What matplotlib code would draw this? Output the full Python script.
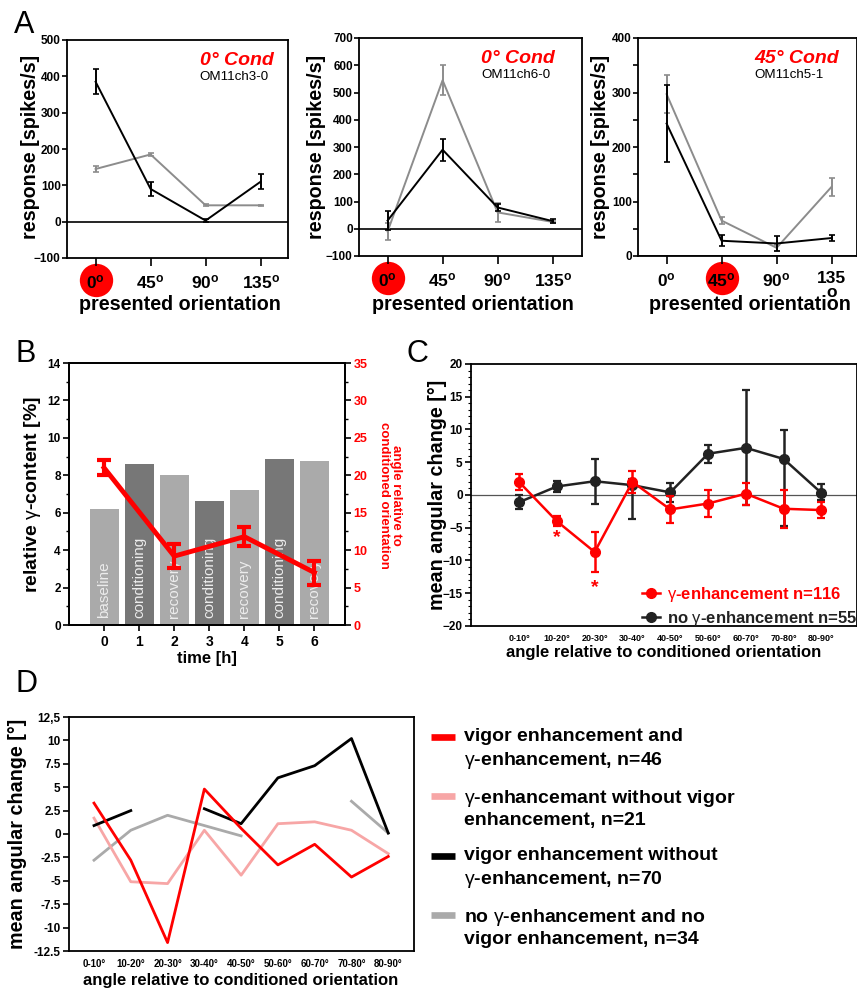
import numpy as np
import matplotlib
matplotlib.use('Agg')
import matplotlib.pyplot as plt
from matplotlib.ticker import MultipleLocator
from matplotlib.lines import Line2D

plt.rcParams['font.family'] = ['Liberation Sans', 'DejaVu Sans']
plt.rcParams['mathtext.fontset'] = 'custom'
plt.rcParams['mathtext.rm'] = 'Liberation Sans'
plt.rcParams['mathtext.bf'] = 'Liberation Sans:bold'
plt.rcParams['mathtext.it'] = 'Liberation Sans:italic'
plt.rcParams['axes.linewidth'] = 1.3

# ---- data: panel A (tuning curves) ----
orient_pos = [0, 1, 2, 3]
a1_black = [385, 90, 3, 110]
a1_black_err = [35, 20, 3, 20]
a1_gray = [145, 185, 45, 45]
a1_gray_err = [7, 5, 3, 2]

a2_black = [30, 290, 78, 28]
a2_black_err = [35, 40, 12, 8]
a2_gray = [-10, 545, 60, 25]
a2_gray_err = [30, 55, 35, 5]

a3_black = [243, 28, 23, 33]
a3_black_err = [70, 10, 13, 5]
a3_gray = [297, 65, 15, 127]
a3_gray_err = [35, 6, 5, 17]

# ---- data: panel B ----
hours = [0, 1, 2, 3, 4, 5, 6]
gamma_content = [6.2, 8.6, 8.0, 6.6, 7.2, 8.85, 8.75]
phase_labels = ['baseline', 'conditioning', 'recovery', 'conditioning',
                'recovery', 'conditioning', 'recovery']
angle_hours = [0, 2, 4, 6]
angle_vals = [21.0, 9.2, 11.8, 7.0]
angle_err = [1.0, 1.6, 1.3, 1.6]

# ---- data: panel C ----
angle_bins = ['0-10°', '10-20°', '20-30°', '30-40°', '40-50°',
              '50-60°', '60-70°', '70-80°', '80-90°']
gamma_enh = [2.0, -4.0, -8.7, 2.0, -2.2, -1.3, 0.2, -2.1, -2.3]
gamma_enh_err = [1.2, 0.8, 3.1, 1.7, 2.0, 2.0, 1.7, 2.9, 1.2]
no_gamma = [-1.1, 1.3, 2.1, 1.5, 0.4, 6.3, 7.2, 5.5, 0.3]
no_gamma_err_lo = [1.1, 0.8, 3.4, 5.1, 1.4, 1.4, 8.7, 10.3, 1.0]
no_gamma_err_hi = [1.1, 0.8, 3.4, 0.9, 1.5, 1.4, 8.9, 4.4, 1.4]

# ---- data: panel D ----
vig_gam = [3.3, -2.8, -11.6, 4.8, 0.6, -3.3, -1.1, -4.6, -2.4]
gam_novig = [1.7, -5.1, -5.3, 0.4, -4.4, 1.1, 1.3, 0.4, -2.1]
vig_nogam = [0.9, 2.5, np.nan, 2.7, 1.1, 6.0, 7.3, 10.2, 0.1]
novig_nogam = [-2.8, 0.4, 2.0, 0.9, -0.2, np.nan, np.nan, 3.5, 0.1]
d_ylabels = ['-12.5', '-10', '-7.5', '-5', '-2.5', '0', '2.5', '5', '7.5', '10', '12,5']

W, H = 857, 990
fig = plt.figure(figsize=(W / 100, H / 100), dpi=100)


def px_axes(l, t, r, b):
    return fig.add_axes([l / W, 1 - b / H, (r - l) / W, (b - t) / H])


def ftext(x, y, s, **kw):
    kw.setdefault('ha', 'center')
    kw.setdefault('va', 'center')
    return fig.text(x / W, 1 - y / H, s, **kw)


# ================= Panel A =================
deg = r'$^{\mathbf{o}}$'
panels_a = [
    (67, 40, 288, 258, a1_black, a1_black_err, a1_gray, a1_gray_err, (-100, 500), 100, None,
     0, '0° Cond', 'OM11ch3-0', 0.60, 31),
    (359, 38, 582, 256, a2_black, a2_black_err, a2_gray, a2_gray_err, (-100, 700), 100, None,
     0, '0° Cond', 'OM11ch6-0', 0.547, 317),
    (638, 38, 857, 256, a3_black, a3_black_err, a3_gray, a3_gray_err, (0, 400), 100, 50,
     1, '45° Cond', 'OM11ch5-1', 0.53, 600),
]
for (l, t, r, b, blk, blk_e, gry, gry_e, ylim, major, minor, cond, title, cell, tx, ylx) in panels_a:
    ax = px_axes(l, t, r, b)
    ax.set_xlim(-0.52, -0.52 + (r - l) / 55.0)
    ax.set_ylim(*ylim)
    ax.axhline(0, color='black', lw=1.2, zorder=1.5)
    ax.errorbar(orient_pos, gry, yerr=gry_e, color='#8c8c8c', lw=1.4,
                elinewidth=1.4, capsize=2, capthick=1.2, zorder=3)
    ax.errorbar(orient_pos, blk, yerr=blk_e, color='black', lw=1.4,
                elinewidth=1.4, capsize=2, capthick=1.2, zorder=4)
    ax.plot([cond], [-0.10], 'o', ms=24, color='#ff0000', mec='none',
            transform=ax.get_xaxis_transform(), clip_on=False, zorder=1)
    ax.set_xticks(orient_pos)
    labs = ['0' + deg, '45' + deg, '90' + deg, '135' + deg]
    if cond == 1:
        labs[3] = '135\no'
    ax.set_xticklabels(labs, fontsize=12.5, fontweight='bold', linespacing=0.9)
    ax.yaxis.set_major_locator(MultipleLocator(major))
    if minor:
        ax.yaxis.set_minor_locator(MultipleLocator(minor))
    ax.tick_params(axis='x', direction='out', length=6, width=1.2, pad=5)
    ax.tick_params(axis='y', which='both', direction='out', length=3.5, width=1.2, pad=1,
                   labelsize=8.5)
    for lab in ax.get_yticklabels():
        lab.set_fontweight('bold')
    ax.text(tx, 0.905, title, transform=ax.transAxes, color='#ff0000', fontsize=14,
            fontweight='bold', fontstyle='italic', ha='left', va='center')
    ax.text(tx, 0.828, cell, transform=ax.transAxes, color='black', fontsize=9.6,
            ha='left', va='center')
    ftext(ylx, 147, 'response [spikes/s]', rotation=90, fontsize=14.2, fontweight='bold')
    ftext((l + r) / 2 + 2, 305, 'presented orientation', fontsize=14.2, fontweight='bold')

# ================= Panel B =================
axB = px_axes(69, 363, 345, 625)
bar_cols = ['#aaaaaa' if i % 2 == 0 else '#777777' for i in range(len(hours))]
axB.bar(hours, gamma_content, width=0.83, color=bar_cols, zorder=1)
for h, lab in zip(hours, phase_labels):
    axB.text(h, 0.35, lab, rotation=90, ha='center', va='bottom', color='#ececec',
             fontsize=11, zorder=2)
axB.set_xlim(-1.0, 6.87)
axB.set_ylim(0, 14)
axB.set_xticks(hours)
axB.yaxis.set_major_locator(MultipleLocator(2))
axB.yaxis.set_minor_locator(MultipleLocator(1))
axB.tick_params(axis='x', direction='out', length=4, width=1.2, labelsize=10, pad=3)
axB.tick_params(axis='y', which='major', direction='out', length=4, width=1.2,
                labelsize=8.5, pad=2)
axB.tick_params(axis='y', which='minor', direction='out', length=2.5, width=1.0)
for lab in axB.get_xticklabels() + axB.get_yticklabels():
    lab.set_fontweight('bold')

axB2 = axB.twinx()
axB2.set_ylim(0, 35)
axB2.yaxis.set_major_locator(MultipleLocator(5))
axB2.yaxis.set_minor_locator(MultipleLocator(2.5))
axB2.tick_params(axis='y', which='major', direction='out', length=4, width=1.2,
                 labelsize=9, labelcolor='#ff0000', pad=2)
axB2.tick_params(axis='y', which='minor', direction='out', length=2.5, width=1.0)
for lab in axB2.get_yticklabels():
    lab.set_fontweight('bold')
axB2.errorbar(angle_hours, angle_vals, yerr=angle_err, color='#ff0000', lw=3.5,
              elinewidth=3, capsize=5, capthick=3, zorder=5)
ftext(33, 495, r'relative $\mathrm{\gamma}$-content [%]', rotation=90, fontsize=14,
      fontweight='bold')
ftext(207, 658, 'time [h]', fontsize=12, fontweight='bold')
ftext(390, 495, 'angle relative to\nconditioned orientation', rotation=-90,
      color='#ff0000', fontsize=9.5, fontweight='bold', linespacing=1.1)

# ================= Panel C =================
axC = px_axes(471, 364, 857, 626)
xc = np.arange(len(angle_bins))
axC.axhline(0, color='#555555', lw=0.9, zorder=1)
axC.errorbar(xc, no_gamma, yerr=[no_gamma_err_lo, no_gamma_err_hi], color='#222222',
             lw=1.8, elinewidth=1.8, capsize=3, capthick=1.6, marker='o', ms=7, zorder=3)
axC.errorbar(xc, gamma_enh, yerr=gamma_enh_err, color='#ff0000', lw=1.8,
             elinewidth=1.8, capsize=3, capthick=1.6, marker='o', ms=7, zorder=4)
axC.text(1, -6.5, '*', color='#ff0000', fontsize=14, fontweight='bold',
         ha='center', va='center')
axC.text(2, -14.1, '*', color='#ff0000', fontsize=14, fontweight='bold',
         ha='center', va='center')
axC.set_xlim(-1.27, 8.94)
axC.set_ylim(-20, 20)
axC.set_xticks(xc)
axC.set_xticklabels(angle_bins, fontsize=6.5, fontweight='bold')
axC.yaxis.set_major_locator(MultipleLocator(5))
axC.yaxis.set_minor_locator(MultipleLocator(1))
axC.tick_params(axis='x', length=0, pad=6)
axC.tick_params(axis='y', which='major', direction='out', length=4, width=1.2,
                labelsize=8.5, pad=2)
axC.tick_params(axis='y', which='minor', direction='out', length=2, width=0.8)
for lab in axC.get_yticklabels():
    lab.set_fontweight('bold')
c_handles = [Line2D([], [], color='#ff0000', lw=1.8, marker='o', ms=7),
             Line2D([], [], color='#222222', lw=1.8, marker='o', ms=7)]
c_labels = [r'$\mathrm{\gamma}$-enhancement n=116', r'no $\mathrm{\gamma}$-enhancement n=55']
leg = axC.legend(c_handles, c_labels, loc='lower right',
                 bbox_to_anchor=(1.04, -0.065),
                 frameon=False, handlelength=1.1, handletextpad=0.4, labelspacing=0.3,
                 prop={'weight': 'bold', 'size': 12}, labelcolor='linecolor')
ftext(438, 495, 'mean angular change [°]', rotation=90, fontsize=14.2, fontweight='bold')
ftext(664, 653, 'angle relative to conditioned orientation', fontsize=12, fontweight='bold')

# ================= Panel D =================
axD = px_axes(69, 717, 414, 951)
xd = np.arange(len(angle_bins))
axD.plot(xd, novig_nogam, color='#aaaaaa', lw=2)
axD.plot(xd, gam_novig, color='#f7a6a6', lw=2)
axD.plot(xd, vig_nogam, color='black', lw=2)
axD.plot(xd, vig_gam, color='#ff0000', lw=2)
axD.set_xlim(-0.68, 8.7)
axD.set_ylim(-12.5, 12.5)
axD.set_xticks(xd)
axD.set_xticklabels(angle_bins, fontsize=7, fontweight='bold')
axD.set_yticks(np.arange(-12.5, 12.6, 2.5))
axD.set_yticklabels(d_ylabels, fontsize=8.5, fontweight='bold')
axD.tick_params(axis='x', length=0, pad=6)
axD.tick_params(axis='y', direction='out', length=4, width=1.2, pad=2)
ftext(18, 834, 'mean angular change [°]', rotation=90, fontsize=14.2, fontweight='bold')
ftext(241, 980, 'angle relative to conditioned orientation', fontsize=12, fontweight='bold')

d_legend = [
    ('#ff0000', 'vigor enhancement and\n$\\mathrm{\\gamma}$-enhancement, n=46', 737),
    ('#f7a6a6', '$\\mathrm{\\gamma}$-enhancemant without vigor\nenhancement, n=21', 796),
    ('black', 'vigor enhancement without\n$\\mathrm{\\gamma}$-enhancement, n=70', 856),
    ('#aaaaaa', 'no $\\mathrm{\\gamma}$-enhancement and no\nvigor enhancement, n=34', 915),
]
for col, txt, yy in d_legend:
    fig.add_artist(Line2D([431 / W, 455 / W], [1 - yy / H, 1 - yy / H], color=col, lw=4.8,
                          solid_capstyle='butt'))
    ftext(464, yy + 12.5, txt, ha='left', fontsize=14, fontweight='bold', linespacing=1.3)

# panel letters
for letter, x, y in [('A', 14, 33), ('B', 15, 362), ('C', 406, 362), ('D', 15, 692)]:
    ftext(x, y, letter, ha='left', va='baseline', fontsize=22)

fig.savefig('out.png', dpi=100)
